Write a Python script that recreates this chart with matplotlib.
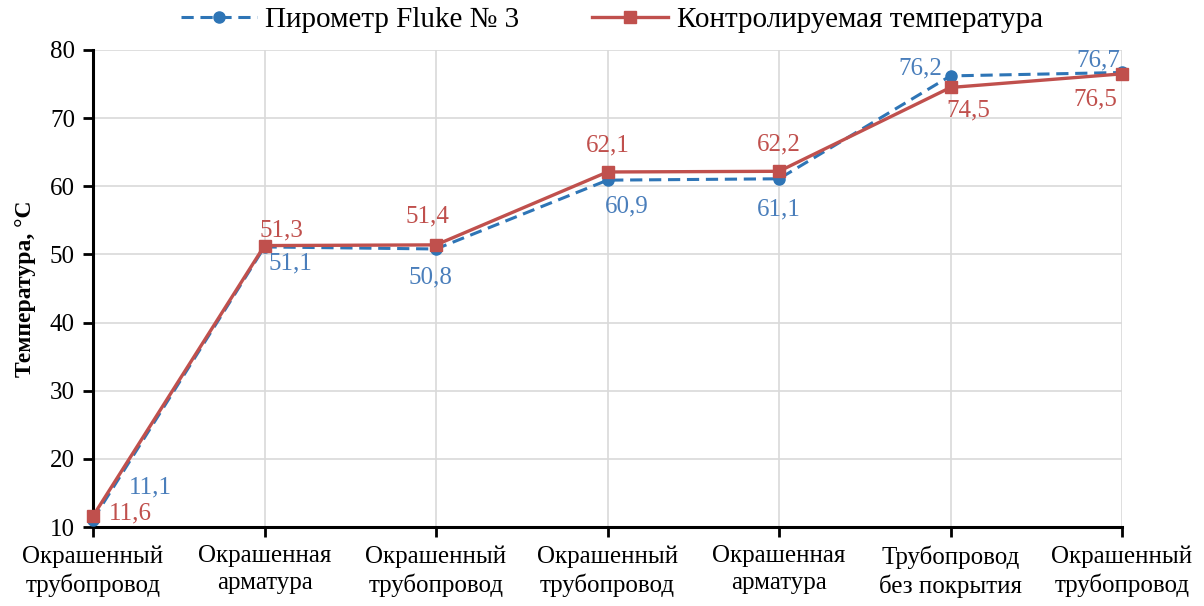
import matplotlib
matplotlib.use("Agg")
import matplotlib.pyplot as plt

categories = ["Окрашенный\nтрубопровод", "Окрашенная\nарматура", "Окрашенный\nтрубопровод",
              "Окрашенный\nтрубопровод", "Окрашенная\nарматура", "Трубопровод\nбез покрытия",
              "Окрашенный\nтрубопровод"]
pyrometer = [11.1, 51.1, 50.8, 60.9, 61.1, 76.2, 76.7]
controlled = [11.6, 51.3, 51.4, 62.1, 62.2, 74.5, 76.5]
y_ticks = [10, 20, 30, 40, 50, 60, 70, 80]

blue = "#2E75B6"
blue_txt = "#4A7EBB"
red = "#C0504D"

plt.rcParams['font.family'] = ['Liberation Serif', 'DejaVu Serif']

fig = plt.figure(figsize=(12.04, 6.06), dpi=100)
ax = fig.add_axes([93/1204, 1-527/606, (1122-93)/1204, (527-50)/606])

x = list(range(len(categories)))
ax.plot(x, pyrometer, color=blue, lw=2.2, ls=(0, (4, 2.2)), marker='o', ms=8,
        label="Пирометр Fluke № 3", zorder=3, clip_on=False)
ax.plot(x, controlled, color=red, lw=2.4, marker='s', ms=8.5,
        label="Контролируемая температура", zorder=4, clip_on=False)

ax.set_xlim(0, 6)
ax.set_ylim(10, 80)
ax.set_yticks(y_ticks)
ax.set_xticks(x)
ax.set_xticklabels(categories, fontsize=18, linespacing=1.3)
ax.tick_params(axis='y', labelsize=18, length=7, width=2, direction='out', pad=6)
ax.tick_params(axis='x', length=7, width=2, direction='out', pad=6)
ax.grid(True, color="#D9D9D9", lw=1.2)
ax.set_axisbelow(True)
for s in ['top', 'right']:
    ax.spines[s].set_visible(False)
for s in ['left', 'bottom']:
    ax.spines[s].set_linewidth(2.2)
ax.set_ylabel("Температура, °C", fontsize=17, fontweight='bold', labelpad=10)

blue_off = [(57, 32), (26, -17), (-6, -28), (19, -26), (0, -31), (-30, 7), (-24, 12)]
red_off = [(37, 3), (17, 15), (-9, 28), (0, 27), (0, 27), (18, -23), (-27, -26)]
for i, (v, o) in enumerate(zip(pyrometer, blue_off)):
    ax.annotate(f"{v:.1f}".replace('.', ','), (i, v), xytext=o, textcoords='offset pixels',
                ha='center', va='center', fontsize=18, color=blue_txt, annotation_clip=False)
for i, (v, o) in enumerate(zip(controlled, red_off)):
    ax.annotate(f"{v:.1f}".replace('.', ','), (i, v), xytext=o, textcoords='offset pixels',
                ha='center', va='center', fontsize=18, color=red, annotation_clip=False)

fig.legend(loc='center', bbox_to_anchor=(612/1204, 1-20/606), ncol=2, frameon=False,
           fontsize=21, handlelength=2.6, columnspacing=2.5, handletextpad=0.3)

fig.savefig("out.png", dpi=100)
